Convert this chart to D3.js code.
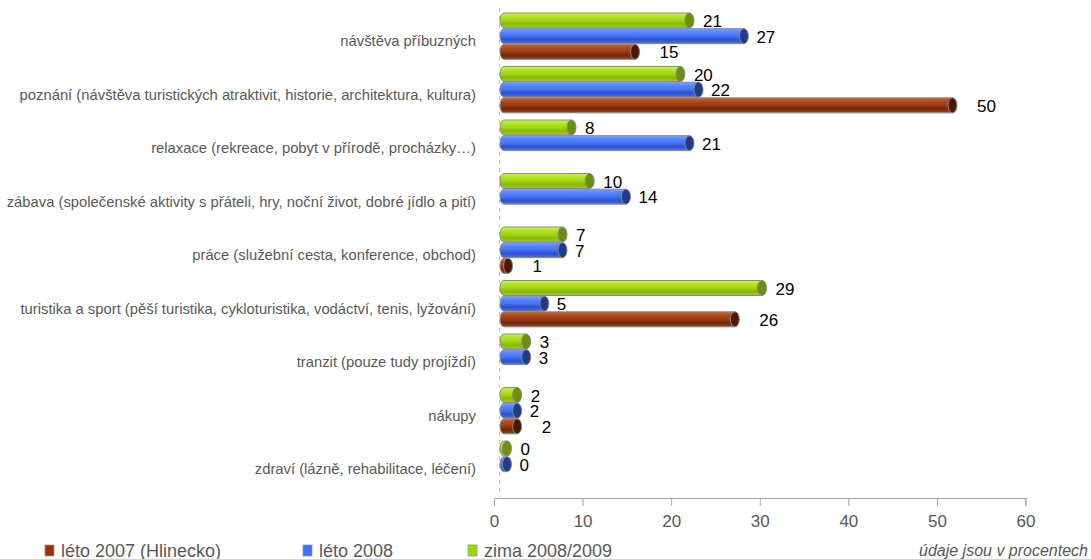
<!DOCTYPE html>
<html>
<head>
<meta charset="utf-8">
<script src="https://cdn.jsdelivr.net/npm/d3@7"></script>
<style>
  html, body { margin: 0; padding: 0; background: #fff; }
  svg { display: block; }
</style>
</head>
<body>
<svg id="chart" width="1091" height="559"></svg>
<script>
// Motivy návštěvy (údaje v procentech)
const categories = [
  "návštěva příbuzných",
  "poznání (návštěva turistických atraktivit, historie, architektura, kultura)",
  "relaxace (rekreace, pobyt v přírodě, procházky…)",
  "zábava (společenské aktivity s přáteli, hry, noční život, dobré jídlo a pití)",
  "práce (služební cesta, konference, obchod)",
  "turistika a sport (pěší turistika, cykloturistika, vodáctví, tenis, lyžování)",
  "tranzit (pouze tudy projíždí)",
  "nákupy",
  "zdraví (lázně, rehabilitace, léčení)"
];
const seriesNames = ["léto 2007 (Hlinecko)", "léto 2008", "zima 2008/2009"];
const leto2007 = [15, 50, null, null, 1, 26, null, 2, null];
const leto2008 = [27, 22, 21, 14, 7, 5, 3, 2, 0];
const zima2009 = [21, 20, 8, 10, 7, 29, 3, 2, 0];
const axisTicks = [0, 10, 20, 30, 40, 50, 60];

const series = [
  { key: "zima", name: seriesNames[2], values: zima2009,
    stops: ["#cdee6e", "#b2e22a", "#a3d414", "#88b806", "#9fd01c"], cap: "#6e8f0e", swatch: "#99dd00" },
  { key: "leto2008", name: seriesNames[1], values: leto2008,
    stops: ["#7aa2ff", "#5684fb", "#4672f0", "#2c4fcf", "#4675ec"], cap: "#1f3b8e", swatch: "#3f6fff" },
  { key: "leto2007", name: seriesNames[0], values: leto2007,
    stops: ["#c06a3e", "#a94a1e", "#9a3c12", "#74250a", "#9a4420"], cap: "#4e1604", swatch: "#993300" }
];

const svg = d3.select("#chart");
const defs = svg.append("defs");

series.forEach(s => {
  const g = defs.append("linearGradient")
    .attr("id", "grad-" + s.key)
    .attr("x1", 0).attr("y1", 0).attr("x2", 0).attr("y2", 1);
  const offs = [0, 0.25, 0.5, 0.72, 1];
  s.stops.forEach((c, i) => g.append("stop").attr("offset", offs[i]).attr("stop-color", c));
});

const font = "'Liberation Sans', Arial, sans-serif";

// Category bands and the three bar slots inside each band
const y = d3.scaleBand().domain(categories).range([13, 494.5]).paddingInner(0).paddingOuter(0);
const ySub = d3.scaleBand().domain(series.map(s => s.key)).range([0, 47]);
const barH = 15;

// Axis scale (front plane) and bar scale (the cylinders sit slightly deeper)
const xAxis = d3.scaleLinear().domain([0, 60]).range([494, 1025.5]);
const xBar = d3.scaleLinear().domain([0, 60]).range([499, 1043.2]);
const barLeft = 500;
const capRx = 4.5;

// light dashed vertical base line
svg.append("line")
  .attr("x1", 499.5).attr("x2", 499.5).attr("y1", 8).attr("y2", 497)
  .attr("stroke", "#c8c8c8").attr("stroke-width", 1).attr("stroke-dasharray", "4,4");

// category labels
svg.append("g").selectAll("text").data(categories).join("text")
  .attr("x", 476)
  .attr("y", d => y(d) + y.bandwidth() / 2 + 1.5)
  .attr("text-anchor", "end")
  .attr("dominant-baseline", "central")
  .attr("font-family", font)
  .attr("font-size", 14.8)
  .attr("fill", "#595959")
  .text(d => d);

// cylinders
const barsG = svg.append("g");
series.forEach(s => {
  const items = categories.map((c, i) => ({ cat: c, v: s.values[i] })).filter(d => d.v !== null);
  const g = barsG.append("g");
  items.forEach(d => {
    const top = y(d.cat) + ySub(s.key);
    const bot = top + barH;
    const cx = Math.max(xBar(d.v), barLeft + 7);
    const ry = barH / 2;
    g.append("path")
      .attr("d", `M${cx},${top} L${barLeft + 4},${top} A4,${ry} 0 0 0 ${barLeft + 4},${bot} L${cx},${bot} Z`)
      .attr("fill", `url(#grad-${s.key})`)
      .attr("stroke", "#8a8a8a").attr("stroke-width", 1);
    g.append("ellipse")
      .attr("cx", cx).attr("cy", top + ry).attr("rx", capRx).attr("ry", ry)
      .attr("fill", s.cap)
      .attr("stroke", "#8a8a8a").attr("stroke-width", 1);
  });
});

// value labels
const labelGap = { zima: 9, leto2008: 8, leto2007: 20 };
series.forEach(s => {
  const items = categories.map((c, i) => ({ cat: c, v: s.values[i] })).filter(d => d.v !== null);
  svg.append("g").selectAll("text").data(items).join("text")
    .attr("x", d => Math.max(xBar(d.v), barLeft + 7) + capRx + labelGap[s.key])
    .attr("y", d => y(d.cat) + ySub(s.key) + barH / 2 + 1)
    .attr("dominant-baseline", "central")
    .attr("font-family", font)
    .attr("font-size", 17)
    .attr("fill", "#000")
    .text(d => d.v);
});

// x axis
const axis = d3.axisBottom(xAxis).tickValues(axisTicks).tickSize(8).tickSizeOuter(8).tickPadding(9);
const ax = svg.append("g").attr("transform", "translate(0,498)").call(axis);
ax.select(".domain").attr("stroke", "#a6a6a6");
ax.selectAll(".tick line").attr("stroke", "#a6a6a6");
ax.selectAll(".tick text")
  .attr("font-family", font).attr("font-size", 17).attr("fill", "#595959");

// legend
const legendItems = [
  { name: seriesNames[0], color: series[2].swatch, x: 45 },
  { name: seriesNames[1], color: series[1].swatch, x: 303 },
  { name: seriesNames[2], color: series[0].swatch, x: 468 }
];
const lg = svg.append("g");
legendItems.forEach(d => {
  lg.append("rect").attr("x", d.x).attr("y", 545).attr("width", 9).attr("height", 11)
    .attr("fill", d.color).attr("stroke", "#9a9a9a").attr("stroke-width", 0.8);
  lg.append("text").attr("x", d.x + 16).attr("y", 557)
    .attr("font-family", font).attr("font-size", 18).attr("fill", "#595959")
    .text(d.name);
});
svg.append("text")
  .attr("x", 1088).attr("y", 556).attr("text-anchor", "end")
  .attr("font-family", font).attr("font-size", 16).attr("font-style", "italic")
  .attr("fill", "#595959")
  .text("údaje jsou v procentech");
</script>
</body>
</html>
